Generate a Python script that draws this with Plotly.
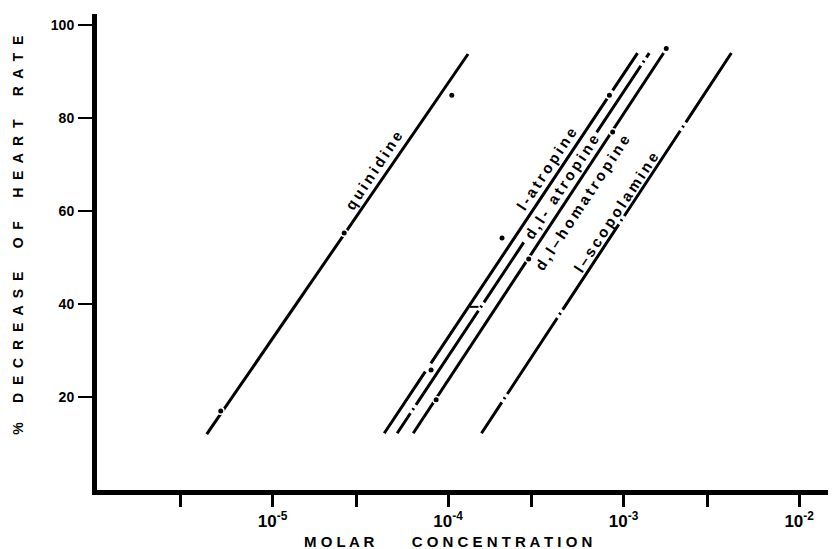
import numpy as np
import plotly.graph_objects as go

# ---- data ----
drugs = ["quinidine", "l-atropine", "d,l- atropine", "d,l–homatropine", "l–scopolamine"]
line_x_low = [4.22e-6, 4.33e-5, 5.13e-5, 6.33e-5, 1.55e-4]
line_x_high = [1.30e-4, 1.20e-3, 1.40e-3, 1.69e-3, 4.11e-3]
line_y_low = [12.0, 12.2, 12.2, 12.2, 12.2]
line_y_high = [93.8, 94.0, 94.0, 94.0, 94.0]

quinidine_x = [5.07e-6, 2.56e-5, 1.05e-4]
quinidine_y = [17.0, 55.3, 84.9]
l_atropine_x = [8.0e-5, 2.03e-4, 8.3e-4]
l_atropine_y = [25.8, 54.2, 84.9]
homatropine_x = [8.55e-5, 2.88e-4, 8.66e-4, 1.75e-3]
homatropine_y = [19.4, 49.7, 77.0, 95.0]
dl_atropine_x = [1.41e-4]
dl_atropine_y = [39.4]

x_tick_vals = [3e-6, 1e-5, 3e-5, 1e-4, 3e-4, 1e-3, 3e-3, 1e-2]
x_tick_text = ["", "<b>10<sup>-5</sup></b>", "", "<b>10<sup>-4</sup></b>", "",
               "<b>10<sup>-3</sup></b>", "", "<b>10<sup>-2</sup></b>"]
y_tick_vals = [20, 40, 60, 80, 100]

# label positions (data coords) along each line
label_x = [3.75e-5, 3.65e-4, 4.45e-4, 5.81e-4, 9.01e-4]
label_y = [68.8, 69.1, 65.2, 61.8, 59.7]

dashes = [
    "solid",
    "74px,10px,318px,10px,200px",
    "24px,4px,2px,4px,113px,4px,2px,4px,72px,132px,80px,4px,2px,4px,200px",
    "solid",
    "37px,4px,2px,4px,91px,4px,2px,4px,102px,4px,2px,4px,102px,4px,2px,4px,200px",
]

FONT = "Liberation Sans, Arial, sans-serif"
THIN = "\u2009"

fig = go.Figure()
for i, name in enumerate(drugs):
    fig.add_trace(go.Scatter(
        x=[line_x_low[i], line_x_high[i]], y=[line_y_low[i], line_y_high[i]],
        mode="lines", line=dict(color="black", width=3, dash=dashes[i]),
        showlegend=False, hoverinfo="skip"))

for xs, ys in [(quinidine_x, quinidine_y), (l_atropine_x, l_atropine_y),
               (homatropine_x, homatropine_y)]:
    fig.add_trace(go.Scatter(x=xs, y=ys, mode="markers",
                             marker=dict(color="black", size=6.5,
                                         line=dict(color="white", width=1.5)),
                             showlegend=False))
fig.add_trace(go.Scatter(x=dl_atropine_x, y=dl_atropine_y, mode="markers",
                         marker=dict(color="black", size=6, symbol="line-ew",
                                     line=dict(width=2, color="black")),
                         showlegend=False))

for i, name in enumerate(drugs):
    fig.add_annotation(x=float(np.log10(label_x[i])), y=label_y[i], xref="x", yref="y",
                       text="<b>%s</b>" % THIN.join(list(name)), showarrow=False,
                       textangle=-56.6, xanchor="center", yanchor="middle",
                       font=dict(family=FONT, size=15, color="black"))

ytitle = "  ".join("%") + "     " + "      ".join(
    "  ".join(list(w)) for w in ["DECREASE", "OF", "HEART", "RATE"])
xtitle = " ".join(list("MOLAR")) + "         " + " ".join(list("CONCENTRATION"))
fig.add_annotation(xref="paper", yref="paper", x=-0.107, y=0.536,
                   xanchor="center", yanchor="middle",
                   text="<b>%s</b>" % ytitle, textangle=-90, showarrow=False,
                   font=dict(family=FONT, size=14, color="black"))
fig.add_annotation(xref="paper", yref="paper", x=0.475, y=-0.109,
                   xanchor="center", yanchor="middle",
                   text="<b>%s</b>" % xtitle, showarrow=False,
                   font=dict(family=FONT, size=15, color="black"))

fig.update_xaxes(type="log", range=[-6.0, -1.79], tickvals=x_tick_vals, ticktext=x_tick_text,
                 showline=True, linecolor="black", linewidth=5, ticks="outside",
                 ticklen=12, tickwidth=2.5, tickcolor="black", showgrid=False, zeroline=False,
                 tickfont=dict(family=FONT, size=17, color="black"))
fig.update_yaxes(range=[0, 102.4], tickvals=y_tick_vals,
                 ticktext=["<b>%d</b>" % v for v in y_tick_vals],
                 showline=True, linecolor="black", linewidth=5, ticks="outside",
                 ticklen=14, tickwidth=2, tickcolor="black", showgrid=False, zeroline=False,
                 ticklabelstandoff=1,
                 tickfont=dict(family=FONT, size=14, color="black"))
fig.update_layout(width=836, height=549, margin=dict(l=89, r=8, t=6, b=67),
                  plot_bgcolor="white", paper_bgcolor="white")
fig.write_html("out.html")
